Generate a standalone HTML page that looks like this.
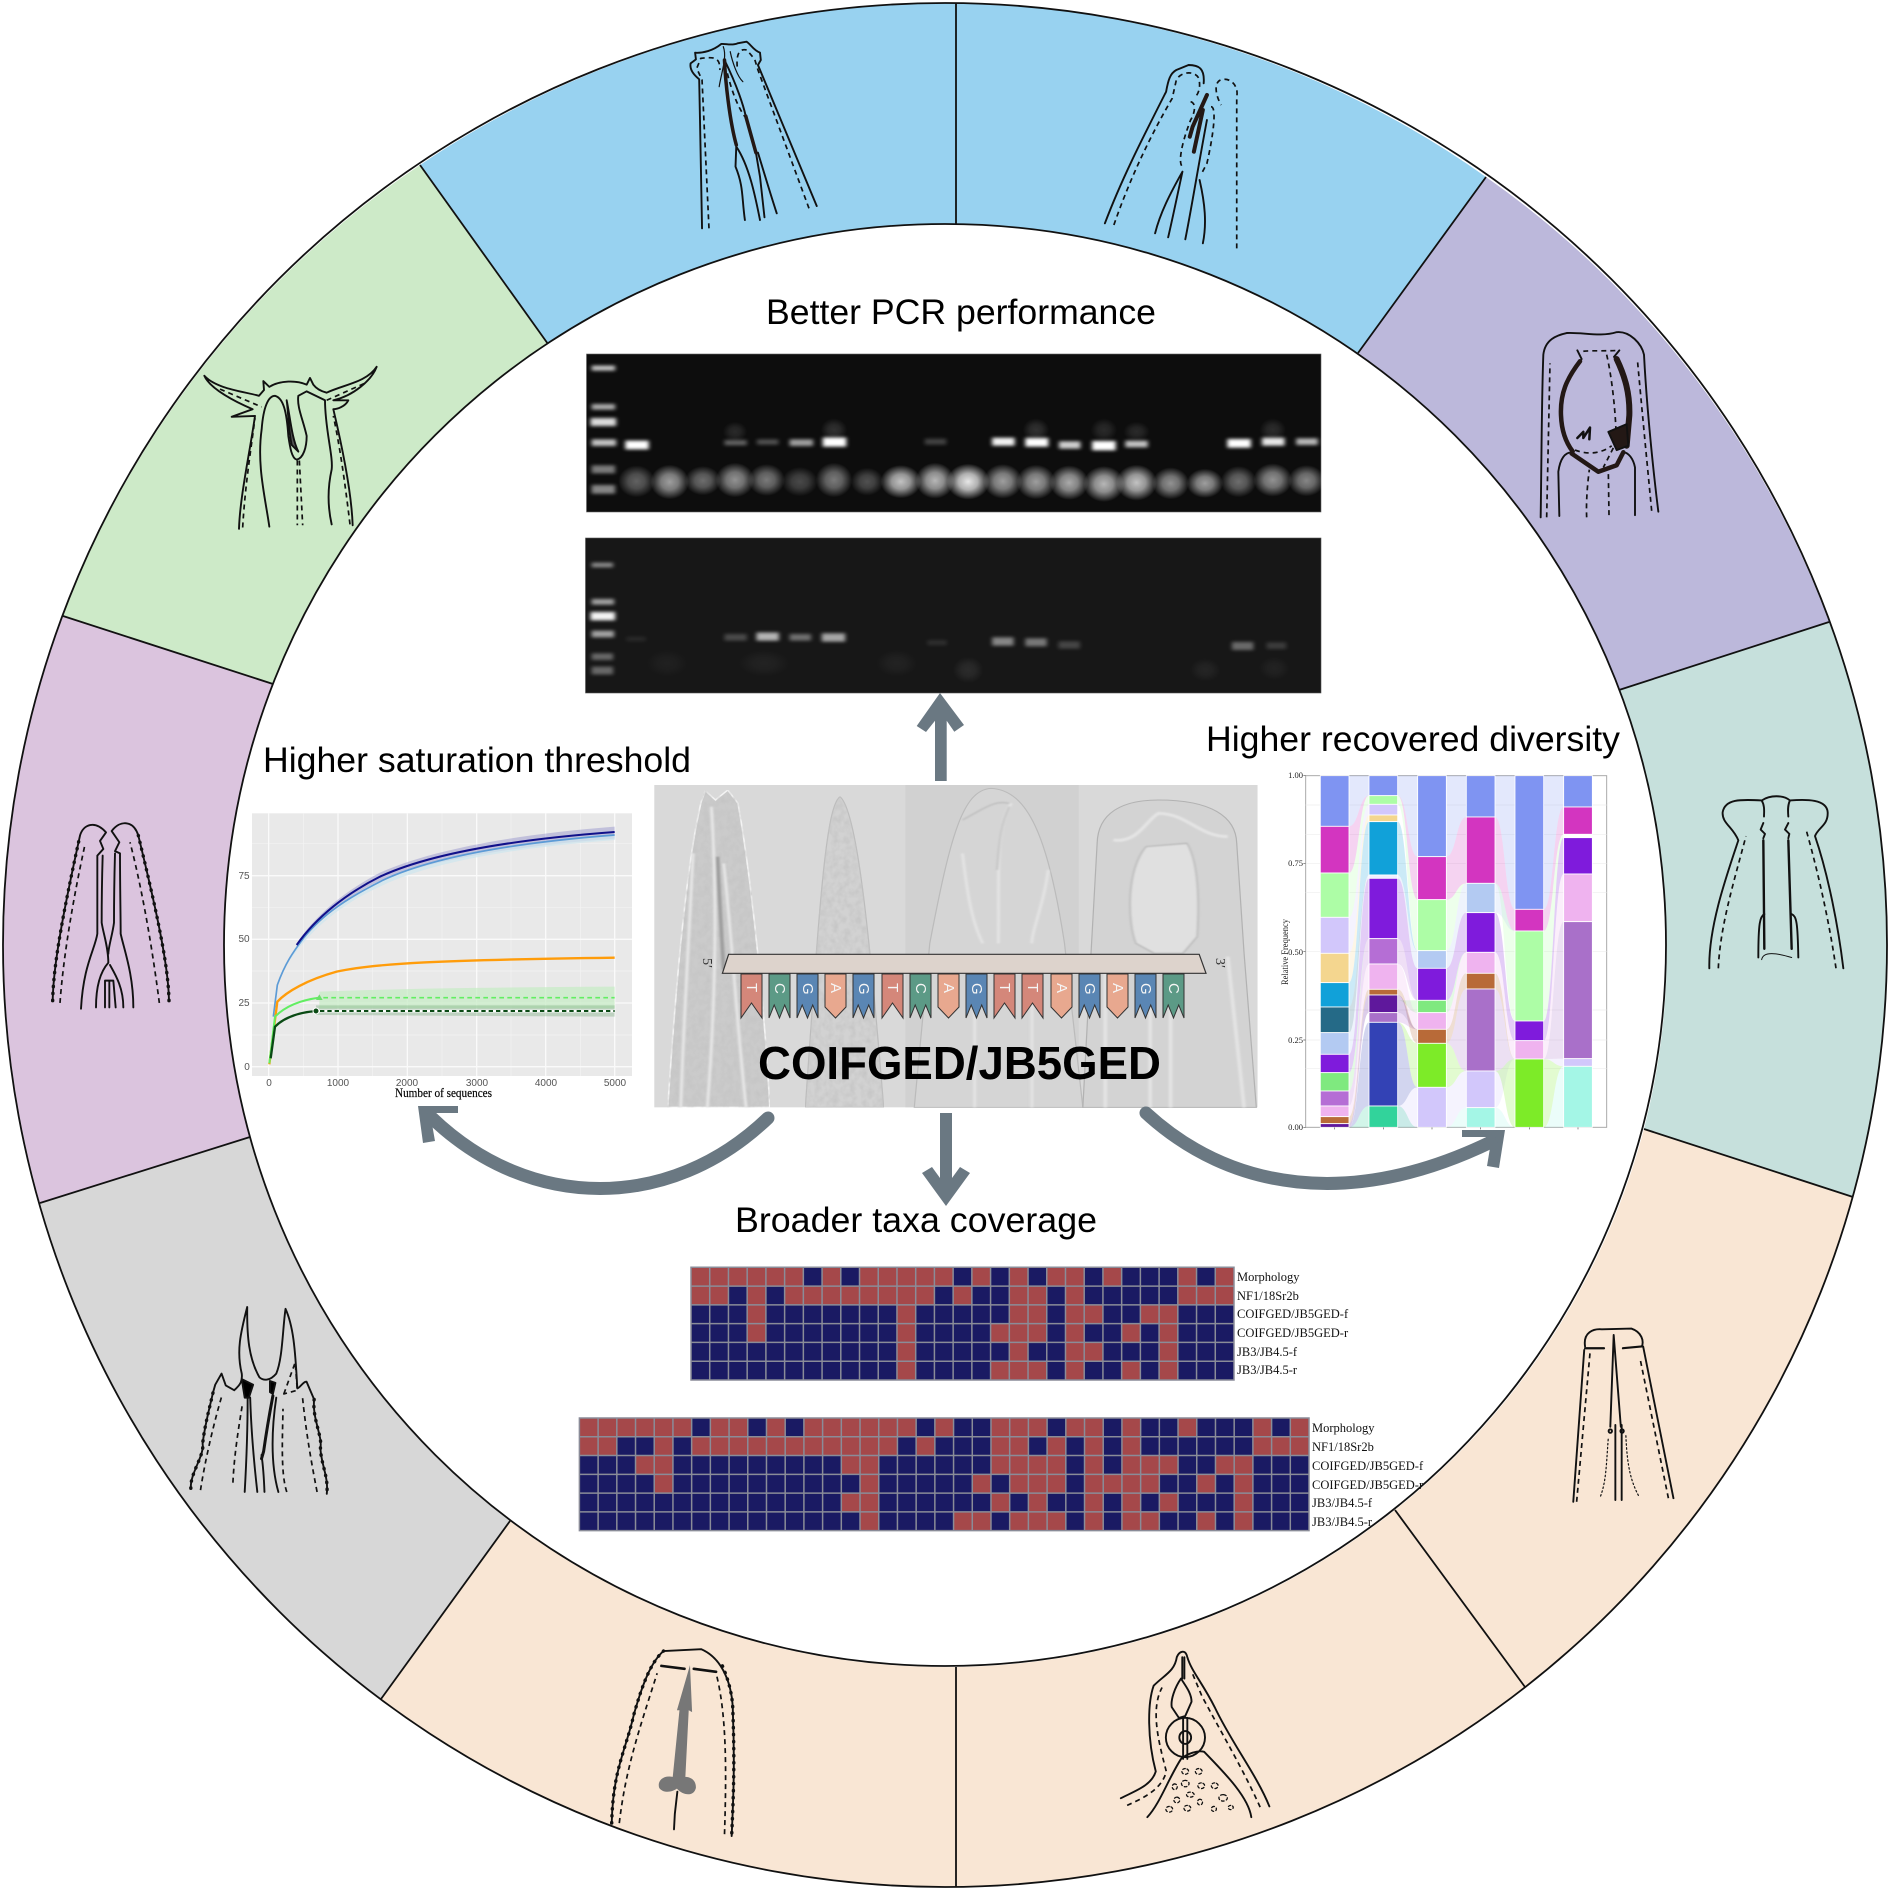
<!DOCTYPE html>
<html><head><meta charset="utf-8"><title>COIFGED/JB5GED</title>
<style>html,body{margin:0;padding:0;background:#fff}svg{display:block}
text{font-family:"Liberation Sans",sans-serif}
.s{font-family:"Liberation Serif",serif}
.n path{fill:none;stroke:#111;stroke-width:1.9;stroke-linecap:round;stroke-linejoin:round;vector-effect:non-scaling-stroke}
.n .d{stroke-dasharray:5 4;stroke-linecap:butt;stroke-width:1.7}
.n .w{stroke-dasharray:.5 6.5;stroke-width:3.4}
</style></head><body>
<svg xmlns="http://www.w3.org/2000/svg" width="1890" height="1890" viewBox="0 0 1890 1890">
<defs>
<radialGradient id="g"><stop offset="0" stop-color="#fff"/><stop offset=".45" stop-color="#fff" stop-opacity=".75"/><stop offset="1" stop-color="#fff" stop-opacity="0"/></radialGradient>
<filter id="b" x="-30%" y="-60%" width="160%" height="220%"><feGaussianBlur stdDeviation="4 5"/></filter>
<filter id="tx" x="0" y="0" width="100%" height="100%"><feTurbulence type="fractalNoise" baseFrequency=".07 .05" numOctaves="2" seed="4"/><feColorMatrix values="0 0 0 0 .55 0 0 0 0 .55 0 0 0 0 .55 1.6 0 0 0 -.55"/><feComposite in2="SourceGraphic" operator="in" result="n"/><feMerge><feMergeNode in="SourceGraphic"/><feMergeNode in="n"/></feMerge></filter>
<filter id="sf" x="-10%" y="-10%" width="120%" height="120%"><feGaussianBlur stdDeviation="2.5"/></filter>
<path id="ft" d="M0 0h21v44l-10.5-15-10.5 15z" stroke="#333" stroke-width="1"/>
<path id="fa" d="M0 0h21v33l-10.5 11-10.5-11z" stroke="#333" stroke-width="1"/>
<path id="fc" d="M0 0h21v44l-5.3-13-5.2 13-5.3-13-5.2 13z" stroke="#333" stroke-width="1"/>
</defs>
<rect width="1890" height="1890" fill="#fff"/>

<!-- titles -->
<text x="766" y="324" font-size="35.5" textLength="390" lengthAdjust="spacingAndGlyphs">Better PCR performance</text>
<text x="263" y="772" font-size="35.5" textLength="428" lengthAdjust="spacingAndGlyphs">Higher saturation threshold</text>
<text x="1206" y="751" font-size="35.5" textLength="414" lengthAdjust="spacingAndGlyphs">Higher recovered diversity</text>
<text x="735" y="1232" font-size="35.5" textLength="362" lengthAdjust="spacingAndGlyphs">Broader taxa coverage</text>

<!-- gels -->
<rect x="586.5" y="354" width="734.5" height="158" fill="#0d0d0d" stroke="#666" stroke-width=".6"/>
<rect x="585.5" y="538" width="735.5" height="155" fill="#171717" stroke="#555" stroke-width=".6"/>
<g transform="translate(560,280) scale(.5102,.3333)" fill="url(#g)">
<ellipse cx="150" cy="604" rx="36" ry="48" opacity=".35"/><ellipse cx="215" cy="606" rx="38" ry="52" opacity=".6"/><ellipse cx="280" cy="602" rx="35" ry="44" opacity=".4"/><ellipse cx="343" cy="600" rx="38" ry="52" opacity=".55"/><ellipse cx="405" cy="600" rx="36" ry="48" opacity=".45"/><ellipse cx="470" cy="605" rx="35" ry="44" opacity=".25"/><ellipse cx="537" cy="600" rx="36" ry="52" opacity=".45"/><ellipse cx="602" cy="605" rx="32" ry="42" opacity=".28"/><ellipse cx="668" cy="605" rx="40" ry="50" opacity=".75"/><ellipse cx="735" cy="602" rx="38" ry="54" opacity=".7"/><ellipse cx="800" cy="605" rx="42" ry="54" opacity=".9"/><ellipse cx="868" cy="604" rx="38" ry="52" opacity=".6"/><ellipse cx="933" cy="606" rx="38" ry="52" opacity=".6"/><ellipse cx="998" cy="608" rx="38" ry="52" opacity=".65"/><ellipse cx="1066" cy="612" rx="40" ry="54" opacity=".7"/><ellipse cx="1130" cy="608" rx="40" ry="54" opacity=".75"/><ellipse cx="1197" cy="610" rx="36" ry="48" opacity=".55"/><ellipse cx="1264" cy="610" rx="36" ry="44" opacity=".6"/><ellipse cx="1330" cy="605" rx="35" ry="47" opacity=".4"/><ellipse cx="1397" cy="600" rx="38" ry="50" opacity=".55"/><ellipse cx="1463" cy="602" rx="36" ry="47" opacity=".5"/>
<ellipse cx="343" cy="455" rx="24" ry="30" opacity=".12"/><ellipse cx="537" cy="450" rx="26" ry="35" opacity=".15"/><ellipse cx="933" cy="450" rx="26" ry="35" opacity=".15"/><ellipse cx="1066" cy="450" rx="26" ry="35" opacity=".12"/><ellipse cx="1130" cy="455" rx="26" ry="30" opacity=".12"/><ellipse cx="1397" cy="450" rx="26" ry="35" opacity=".13"/>
<ellipse cx="210" cy="1150" rx="40" ry="40" opacity=".04"/><ellipse cx="400" cy="1150" rx="50" ry="40" opacity=".05"/><ellipse cx="660" cy="1150" rx="40" ry="40" opacity=".05"/><ellipse cx="800" cy="1170" rx="30" ry="40" opacity=".09"/><ellipse cx="1265" cy="1170" rx="30" ry="35" opacity=".06"/><ellipse cx="1400" cy="1165" rx="30" ry="35" opacity=".05"/>
</g>
<g transform="translate(560,280) scale(.5102,.3333)" fill="#fff" filter="url(#b)">
<rect x="62" y="256" width="46" height="16" opacity=".75"/><rect x="62" y="372" width="46" height="17" opacity=".65"/><rect x="60" y="414" width="50" height="24" opacity=".85"/><rect x="62" y="478" width="48" height="20" opacity=".75"/><rect x="62" y="556" width="46" height="24" opacity=".45"/><rect x="62" y="615" width="46" height="26" opacity=".5"/>
<rect x="128" y="482" width="46" height="26"/><rect x="322" y="480" width="44" height="16" opacity=".35"/><rect x="386" y="478" width="42" height="16" opacity=".28"/><rect x="450" y="478" width="46" height="20" opacity=".6"/><rect x="515" y="472" width="46" height="28"/><rect x="715" y="476" width="42" height="18" opacity=".22"/><rect x="847" y="473" width="44" height="24" opacity=".95"/><rect x="912" y="474" width="45" height="26"/><rect x="978" y="484" width="42" height="22" opacity=".8"/><rect x="1043" y="483" width="46" height="28"/><rect x="1108" y="482" width="44" height="20" opacity=".75"/><rect x="1308" y="477" width="46" height="26"/><rect x="1376" y="473" width="44" height="24" opacity=".9"/><rect x="1443" y="475" width="42" height="20" opacity=".7"/>
<rect x="62" y="848" width="42" height="14" opacity=".5"/><rect x="62" y="957" width="44" height="17" opacity=".6"/><rect x="60" y="996" width="48" height="25" opacity=".95"/><rect x="62" y="1052" width="44" height="20" opacity=".6"/><rect x="62" y="1120" width="42" height="20" opacity=".35"/><rect x="62" y="1160" width="42" height="24" opacity=".35"/>
<rect x="130" y="1070" width="38" height="14" opacity=".08"/><rect x="322" y="1062" width="44" height="20" opacity=".22"/><rect x="385" y="1058" width="44" height="24" opacity=".68"/><rect x="450" y="1062" width="42" height="20" opacity=".38"/><rect x="513" y="1060" width="46" height="25" opacity=".62"/><rect x="720" y="1080" width="38" height="16" opacity=".1"/><rect x="847" y="1072" width="42" height="25" opacity=".48"/><rect x="912" y="1075" width="42" height="24" opacity=".42"/><rect x="977" y="1084" width="42" height="22" opacity=".2"/><rect x="1317" y="1086" width="42" height="24" opacity=".36"/><rect x="1385" y="1087" width="38" height="20" opacity=".16"/>
</g>

<!-- rarefaction chart -->
<g transform="translate(240,730) scale(.33333)">
<rect x="36" y="250" width="1140" height="788" fill="#e9e9e9"/>
<path d="M190 250V1038M398 250V1038M606 250V1038M813 250V1038M1021 250V1038M36 915H1176M36 723H1176M36 532H1176M36 340H1176" stroke="#f3f3f3" stroke-width="2"/>
<path d="M86 250V1038M294 250V1038M502 250V1038M710 250V1038M917 250V1038M1124 250V1038M36 1010H1176M36 819H1176M36 628H1176M36 437H1176" stroke="#fafafa" stroke-width="4"/>
<path d="M170 640C230 550 320 480 420 428C560 365 800 315 1124 290V326C800 350 560 395 420 452C320 500 230 570 170 650Z" fill="#8a88c8" opacity=".42"/>
<path d="M150 690C230 575 330 510 430 465C570 400 800 355 1124 330V315C800 340 570 385 430 450C330 500 230 570 150 680Z" fill="#cfe5ee" opacity=".75"/>
<path d="M238 785C500 775 800 772 1124 770V835H238Z" fill="#c5ebc3" opacity=".7"/>
<path d="M228 826H1124V860L228 855Z" fill="#5e9a62" opacity=".3"/>
<path d="M100 860L112 765C135 700 160 665 190 625C250 550 330 500 430 450C570 385 800 340 1124 315" fill="none" stroke="#5c9bd6" stroke-width="5"/>
<path d="M170 645C230 560 320 490 420 440C560 375 800 330 1124 306" fill="none" stroke="#10108a" stroke-width="6"/>
<path d="M88 1003L112 815C140 785 200 750 290 725C400 700 600 690 1124 683" fill="none" stroke="#ff9c0a" stroke-width="7"/>
<path d="M88 1000L105 860C130 835 170 812 238 803" fill="none" stroke="#62ee62" stroke-width="6"/>
<path d="M250 803H1124" fill="none" stroke="#62ee62" stroke-width="5" stroke-dasharray="14 10"/>
<path d="M228 843H1124" stroke="#fff" stroke-width="8"/>
<path d="M240 843H1124" stroke="#0a4a14" stroke-width="6" stroke-dasharray="13 9"/>
<path d="M92 985L105 890C130 865 170 848 228 843" fill="none" stroke="#0a4a14" stroke-width="7"/>
<path d="M238 793l10 17h-20z" fill="#6cdf6c"/><circle cx="228" cy="843" r="9" fill="#0a4a14" stroke="#fff" stroke-width="3"/>
</g>
<g font-size="10" fill="#555" text-anchor="middle">
<text x="269" y="1086">0</text><text x="338" y="1086">1000</text><text x="407" y="1086">2000</text><text x="477" y="1086">3000</text><text x="546" y="1086">4000</text><text x="615" y="1086">5000</text>
<text x="244" y="879">75</text><text x="244" y="942">50</text><text x="244" y="1006">25</text><text x="247" y="1070">0</text></g>
<text class="s" x="395" y="1097" font-size="13" stroke="#111" stroke-width=".2" textLength="97" lengthAdjust="spacingAndGlyphs">Number of sequences</text>

<!-- alluvial chart -->
<g transform="translate(1190,710) scale(.33333)">
<rect x="347" y="197" width="903" height="1055" fill="#fff" stroke="#aaa" stroke-width="3"/>
<path d="M347 285H1250M347 373H1250M347 548H1250M347 900H1250M347 1076H1250M347 460H1250M347 725H1250M347 990H1250" stroke="#eee" stroke-width="2"/>
<g fill-opacity=".22">
<path fill="#7f94f2" d="M477 197H537V257C507 257 507 349 477 349ZM623 197H683V440C653 440 653 257 623 257ZM769 197H829V321C799 321 799 440 769 440ZM915 197H975V598C945 598 945 321 915 321ZM1061 197H1121V291C1091 291 1091 598 1061 598Z"/>
<path fill="#d335c0" d="M477 349C507 349 507 257 537 257C507 257 507 489 477 489ZM623 257C653 257 653 440 683 440V569C653 569 653 257 623 257ZM769 440C799 440 799 321 829 321V520C799 520 799 569 769 569ZM915 321C945 321 945 598 975 598V663C945 663 945 520 915 520ZM1061 598C1091 598 1091 291 1121 291V373C1091 373 1091 663 1061 663Z"/>
<path fill="#adfda6" d="M477 489C507 489 507 257 537 257V283C507 283 507 622 477 622ZM623 257C653 257 653 569 683 569V722C653 722 653 283 623 283ZM769 569C799 569 799 520 829 520C799 520 799 722 769 722ZM915 520C945 520 945 663 975 663V933C945 933 945 520 915 520ZM1061 663C1091 663 1091 373 1121 373V383C1091 383 1091 933 1061 933Z"/>
<path fill="#d2c7fb" d="M477 622C507 622 507 283 537 283V315C507 315 507 730 477 730ZM623 1188C653 1188 653 1132 683 1132V1252H623ZM769 1132C799 1132 799 1083 829 1083V1193C799 1193 799 1252 769 1252ZM915 1083C945 1083 945 1047 975 1047C945 1047 945 1193 915 1193ZM1061 1047C1091 1047 1091 1046 1121 1046V1069C1091 1069 1091 1047 1061 1047Z"/>
<path fill="#f4d68f" d="M477 730C507 730 507 315 537 315V335C507 335 507 818 477 818Z"/>
<path fill="#11a1d9" d="M477 818C507 818 507 335 537 335V495C507 495 507 891 477 891ZM623 335C653 335 653 722 683 722C653 722 653 495 623 495Z"/>
<path fill="#256a87" d="M477 891C507 891 507 495 537 495C507 495 507 968 477 968Z"/>
<path fill="#b3caf2" d="M477 968C507 968 507 495 537 495V505C507 505 507 1033 477 1033ZM623 495C653 495 653 722 683 722V775C653 775 653 505 623 505ZM769 722C799 722 799 520 829 520V608C799 608 799 775 769 775ZM915 520C945 520 945 663 975 663C945 663 945 608 915 608Z"/>
<path fill="#7f1bdc" d="M477 1033C507 1033 507 505 537 505V686C507 686 507 1088 477 1088ZM623 505C653 505 653 775 683 775V871C653 871 653 686 623 686ZM769 775C799 775 799 608 829 608V727C799 727 799 871 769 871ZM915 608C945 608 945 933 975 933V992C945 992 945 727 915 727ZM1061 933C1091 933 1091 383 1121 383V492C1091 492 1091 992 1061 992Z"/>
<path fill="#7fe97f" d="M477 1088C507 1088 507 686 537 686C507 686 507 1143 477 1143ZM623 871C653 871 653 871 683 871V908C653 908 653 871 623 871ZM769 871C799 871 799 727 829 727C799 727 799 908 769 908Z"/>
<path fill="#b56ed5" d="M477 1143C507 1143 507 686 537 686V762C507 762 507 1188 477 1188ZM623 686C653 686 653 871 683 871C653 871 653 762 623 762ZM623 908C653 908 653 958 683 958C653 958 653 937 623 937Z"/>
<path fill="#efb3ef" d="M477 1188C507 1188 507 762 537 762V838C507 838 507 1220 477 1220ZM623 762C653 762 653 908 683 908V958C653 958 653 838 623 838ZM769 908C799 908 799 727 829 727V790C799 790 799 958 769 958ZM915 727C945 727 945 992 975 992V1047C945 1047 945 790 915 790ZM1061 992C1091 992 1091 492 1121 492V635C1091 635 1091 1047 1061 1047Z"/>
<path fill="#b86a38" d="M477 1220C507 1220 507 838 537 838V855C507 855 507 1241 477 1241ZM623 838C653 838 653 958 683 958V1000C653 1000 653 855 623 855ZM769 958C799 958 799 790 829 790V837C799 837 799 1000 769 1000ZM915 790C945 790 945 1047 975 1047C945 1047 945 837 915 837Z"/>
<path fill="#5f189c" d="M477 1241C507 1241 507 855 537 855V908C507 908 507 1252 477 1252ZM623 855C653 855 653 958 683 958C653 958 653 908 623 908Z"/>
<path fill="#3342b5" d="M477 1252C507 1252 507 937 537 937V1188C507 1188 507 1252 477 1252ZM623 937C653 937 653 1132 683 1132C653 1132 653 1188 623 1188Z"/>
<path fill="#7deb28" d="M623 937C653 937 653 1000 683 1000V1132C653 1132 653 937 623 937ZM769 1000C799 1000 799 1083 829 1083C799 1083 799 1132 769 1132ZM915 1083C945 1083 945 1047 975 1047V1252C945 1252 945 1083 915 1083ZM1061 1047C1091 1047 1091 1069 1121 1069C1091 1069 1091 1252 1061 1252Z"/>
<path fill="#a970c9" d="M769 1000C799 1000 799 837 829 837V1083C799 1083 799 1000 769 1000ZM915 837C945 837 945 1047 975 1047C945 1047 945 1083 915 1083ZM1061 1047C1091 1047 1091 635 1121 635V1046C1091 1046 1091 1047 1061 1047Z"/>
<path fill="#32d39b" d="M477 1252C507 1252 507 1188 537 1188V1252ZM623 1188C653 1188 653 1252 683 1252H623Z"/>
<path fill="#a4f6e6" d="M769 1252C799 1252 799 1193 829 1193V1252ZM915 1193C945 1193 945 1252 975 1252H915ZM1061 1252C1091 1252 1091 1069 1121 1069V1252Z"/>
</g>
<g stroke="#fff" stroke-width="2.5">
<rect x="391" y="197" width="86" height="152" fill="#7f94f2"/><rect x="391" y="349" width="86" height="140" fill="#d335c0"/><rect x="391" y="489" width="86" height="133" fill="#adfda6"/><rect x="391" y="622" width="86" height="108" fill="#d2c7fb"/><rect x="391" y="730" width="86" height="88" fill="#f4d68f"/><rect x="391" y="818" width="86" height="73" fill="#11a1d9"/><rect x="391" y="891" width="86" height="77" fill="#256a87"/><rect x="391" y="968" width="86" height="65" fill="#b3caf2"/><rect x="391" y="1033" width="86" height="55" fill="#7f1bdc"/><rect x="391" y="1088" width="86" height="55" fill="#7fe97f"/><rect x="391" y="1143" width="86" height="45" fill="#b56ed5"/><rect x="391" y="1188" width="86" height="32" fill="#efb3ef"/><rect x="391" y="1220" width="86" height="21" fill="#b86a38"/><rect x="391" y="1241" width="86" height="11" fill="#5f189c"/>
<rect x="537" y="197" width="86" height="60" fill="#7f94f2"/><rect x="537" y="257" width="86" height="26" fill="#adfda6"/><rect x="537" y="283" width="86" height="32" fill="#d2c7fb"/><rect x="537" y="315" width="86" height="20" fill="#f4d68f"/><rect x="537" y="335" width="86" height="160" fill="#11a1d9"/><rect x="537" y="495" width="86" height="10" fill="#eef"/><rect x="537" y="505" width="86" height="181" fill="#7f1bdc"/><rect x="537" y="686" width="86" height="76" fill="#b56ed5"/><rect x="537" y="762" width="86" height="76" fill="#efb3ef"/><rect x="537" y="838" width="86" height="17" fill="#b86a38"/><rect x="537" y="855" width="86" height="53" fill="#5f189c"/><rect x="537" y="908" width="86" height="29" fill="#a970c9"/><rect x="537" y="937" width="86" height="251" fill="#3342b5"/><rect x="537" y="1188" width="86" height="64" fill="#32d39b"/>
<rect x="683" y="197" width="86" height="243" fill="#7f94f2"/><rect x="683" y="440" width="86" height="129" fill="#d335c0"/><rect x="683" y="569" width="86" height="153" fill="#adfda6"/><rect x="683" y="722" width="86" height="53" fill="#b3caf2"/><rect x="683" y="775" width="86" height="96" fill="#7f1bdc"/><rect x="683" y="871" width="86" height="37" fill="#7fe97f"/><rect x="683" y="908" width="86" height="50" fill="#efb3ef"/><rect x="683" y="958" width="86" height="42" fill="#b86a38"/><rect x="683" y="1000" width="86" height="132" fill="#7deb28"/><rect x="683" y="1132" width="86" height="120" fill="#d2c7fb"/>
<rect x="829" y="197" width="86" height="124" fill="#7f94f2"/><rect x="829" y="321" width="86" height="199" fill="#d335c0"/><rect x="829" y="520" width="86" height="88" fill="#b3caf2"/><rect x="829" y="608" width="86" height="119" fill="#7f1bdc"/><rect x="829" y="727" width="86" height="63" fill="#efb3ef"/><rect x="829" y="790" width="86" height="47" fill="#b86a38"/><rect x="829" y="837" width="86" height="246" fill="#a970c9"/><rect x="829" y="1083" width="86" height="110" fill="#d2c7fb"/><rect x="829" y="1193" width="86" height="59" fill="#a4f6e6"/>
<rect x="975" y="197" width="86" height="401" fill="#7f94f2"/><rect x="975" y="598" width="86" height="65" fill="#d335c0"/><rect x="975" y="663" width="86" height="270" fill="#adfda6"/><rect x="975" y="933" width="86" height="59" fill="#7f1bdc"/><rect x="975" y="992" width="86" height="55" fill="#efb3ef"/><rect x="975" y="1047" width="86" height="205" fill="#7deb28"/>
<rect x="1121" y="197" width="86" height="94" fill="#7f94f2"/><rect x="1121" y="291" width="86" height="82" fill="#d335c0"/><rect x="1121" y="373" width="86" height="10" fill="#fff"/><rect x="1121" y="383" width="86" height="109" fill="#7f1bdc"/><rect x="1121" y="492" width="86" height="143" fill="#efb3ef"/><rect x="1121" y="635" width="86" height="411" fill="#a970c9"/><rect x="1121" y="1046" width="86" height="23" fill="#d2c7fb"/><rect x="1121" y="1069" width="86" height="183" fill="#a4f6e6"/>
</g>
<path d="M340 197H347M340 460H347M340 725H347M340 990H347M340 1252H347M434 1252v6M580 1252v6M726 1252v6M872 1252v6M1018 1252v6M1164 1252v6" stroke="#555" stroke-width="2"/>
</g>
<g class="s" font-size="8.5" text-anchor="end" fill="#222"><text class="s" x="1303" y="778">1.00</text><text class="s" x="1303" y="866">0.75</text><text class="s" x="1303" y="955">0.50</text><text class="s" x="1303" y="1043">0.25</text><text class="s" x="1303" y="1130">0.00</text></g>
<text class="s" transform="translate(1288,985) rotate(-90)" font-size="9.5" fill="#222" textLength="66" lengthAdjust="spacingAndGlyphs">Relative Frequency</text>

<!-- micrographs -->
<g transform="translate(640,770) scale(.40816,.33333)">
<rect x="35" y="45" width="1478" height="967" fill="#d9d9d9"/>
<rect x="650" y="45" width="425" height="967" fill="#d1d1d1"/>
<path d="M150 95L160 62 185 90 215 60 240 100C270 300 305 700 318 1012H68C85 700 110 300 150 95Z" fill="#cbcbcb" stroke="#f4f4f4" stroke-width="4" filter="url(#tx)"/>
<g fill="none" filter="url(#sf)">
<path d="M130 250C120 500 105 800 100 1012M175 110C190 400 185 700 165 1012M205 280C225 500 240 800 260 1012" stroke="#e8e8e8" stroke-width="7"/>
<path d="M190 260C195 400 200 500 205 600" stroke="#9c9c9c" stroke-width="9"/>
</g>
<path d="M490 80C455 110 440 400 405 1012H597C560 450 530 120 490 80Z" fill="#d2d2d2" stroke="#bcbcbc" stroke-width="3" filter="url(#tx)"/>
<path d="M860 55C790 60 760 200 710 520L672 1012H1085L1040 520C1000 200 950 60 860 55Z" fill="#d5d5d5" stroke="#bbb" stroke-width="3"/>
<g fill="none" filter="url(#sf)">
<path d="M910 100C870 170 880 300 878 520M790 250C800 350 810 450 840 520M1000 300C990 400 960 480 960 520M820 560V1012M960 560V1012" stroke="#e4e4e4" stroke-width="7"/>
<path d="M905 110C880 170 880 230 875 300M790 150C850 110 870 90 905 100" stroke="#bdbdbd" stroke-width="4"/>
</g>
<path d="M1270 90C1180 90 1122 130 1120 220L1105 550 1085 1012H1510L1480 550 1462 220C1460 140 1400 90 1270 90Z" fill="#d3d3d3" stroke="#b2b2b2" stroke-width="3"/>
<path d="M1240 230C1190 300 1195 460 1215 520L1260 550H1330L1365 500C1370 400 1370 280 1340 220Z" fill="#e0e0e0" stroke="#aeaeae" stroke-width="3" filter="url(#sf)"/>
<g fill="none" filter="url(#sf)"><path d="M1160 210C1220 220 1240 150 1270 130 1340 130 1370 200 1440 200M1140 560V1012M1250 560V1012M1300 560V1012M1440 560 1480 1012" stroke="#e4e4e4" stroke-width="9"/></g>
</g>
<polygon points="728.6,954.3 1199.2,954.3 1206,973.3 722.4,973.3" fill="#ddd3cc" stroke="#333" stroke-width="1.2"/>
<g fill="#333"><text class="s" transform="translate(703,958) rotate(90)" font-size="14">5′</text><text class="s" transform="translate(1216,958) rotate(90)" font-size="14">3′</text></g>
<g>
<use href="#ft" x="741" y="974" fill="#d4877a"/><use href="#fc" x="769" y="974" fill="#5c9a86"/><use href="#fc" x="797" y="974" fill="#5a86b4"/><use href="#fa" x="825" y="974" fill="#e8a88f"/><use href="#fc" x="853" y="974" fill="#5a86b4"/><use href="#ft" x="882" y="974" fill="#d4877a"/><use href="#fc" x="910" y="974" fill="#5c9a86"/><use href="#fa" x="938" y="974" fill="#e8a88f"/><use href="#fc" x="966" y="974" fill="#5a86b4"/><use href="#ft" x="994" y="974" fill="#d4877a"/><use href="#ft" x="1022" y="974" fill="#d4877a"/><use href="#fa" x="1051" y="974" fill="#e8a88f"/><use href="#fc" x="1079" y="974" fill="#5a86b4"/><use href="#fa" x="1107" y="974" fill="#e8a88f"/><use href="#fc" x="1135" y="974" fill="#5a86b4"/><use href="#fc" x="1163" y="974" fill="#5c9a86"/>
</g>
<g font-size="15" fill="#f5f5f5">
<text transform="translate(747,983) rotate(90)">T</text><text transform="translate(775,983) rotate(90)">C</text><text transform="translate(803,983) rotate(90)">G</text><text transform="translate(831,983) rotate(90)">A</text><text transform="translate(859,983) rotate(90)">G</text><text transform="translate(888,983) rotate(90)">T</text><text transform="translate(916,983) rotate(90)">C</text><text transform="translate(944,983) rotate(90)">A</text><text transform="translate(972,983) rotate(90)">G</text><text transform="translate(1000,983) rotate(90)">T</text><text transform="translate(1028,983) rotate(90)">T</text><text transform="translate(1057,983) rotate(90)">A</text><text transform="translate(1085,983) rotate(90)">G</text><text transform="translate(1113,983) rotate(90)">A</text><text transform="translate(1141,983) rotate(90)">G</text><text transform="translate(1169,983) rotate(90)">C</text>
</g>
<text x="758" y="1079" font-size="46" font-weight="bold" textLength="403" lengthAdjust="spacingAndGlyphs">COIFGED/JB5GED</text>

<!-- heatmap 1 -->
<g transform="translate(691,1267.3) scale(18.724,18.78)">
<rect width="29" height="6" fill="#1a1a63"/>
<path fill="#a5484a" d="M0 0h6v1h-6zM7 0h1v1h-1zM9 0h5v1h-5zM15 0h1v1h-1zM17 0h1v1h-1zM19 0h2v1h-2zM22 0h1v1h-1zM26 0h1v1h-1zM28 0h1v1h-1z
M0 1h2v1h-2zM3 1h1v1h-1zM5 1h8v1h-8zM14 1h1v1h-1zM17 1h2v1h-2zM20 1h1v1h-1zM26 1h3v1h-3z
M3 2h1v1h-1zM11 2h1v1h-1zM17 2h2v1h-2zM20 2h2v1h-2zM24 2h2v1h-2z
M3 3h1v1h-1zM11 3h1v1h-1zM16 3h3v1h-3zM20 3h1v1h-1zM23 3h1v1h-1zM25 3h1v1h-1z
M11 4h1v1h-1zM17 4h1v1h-1zM20 4h2v1h-2zM25 4h1v1h-1z
M11 5h1v1h-1zM16 5h3v1h-3zM20 5h1v1h-1zM23 5h1v1h-1zM25 5h1v1h-1z"/>
<path fill="none" stroke="#8a8c98" stroke-width="1.5" vector-effect="non-scaling-stroke" d="M0 0H29V6H0ZM1 0V6M2 0V6M3 0V6M4 0V6M5 0V6M6 0V6M7 0V6M8 0V6M9 0V6M10 0V6M11 0V6M12 0V6M13 0V6M14 0V6M15 0V6M16 0V6M17 0V6M18 0V6M19 0V6M20 0V6M21 0V6M22 0V6M23 0V6M24 0V6M25 0V6M26 0V6M27 0V6M28 0V6M0 1H29M0 2H29M0 3H29M0 4H29M0 5H29"/>
</g>
<!-- heatmap 2 -->
<g transform="translate(579.4,1418) scale(18.708,18.78)">
<rect width="39" height="6" fill="#1a1a63"/>
<path fill="#a5484a" d="M0 0h6v1h-6zM7 0h2v1h-2zM10 0h1v1h-1zM12 0h6v1h-6zM19 0h1v1h-1zM22 0h3v1h-3zM26 0h2v1h-2zM29 0h1v1h-1zM32 0h1v1h-1zM36 0h1v1h-1zM38 0h1v1h-1z
M0 1h2v1h-2zM4 1h1v1h-1zM6 1h11v1h-11zM18 1h1v1h-1zM22 1h2v1h-2zM25 1h1v1h-1zM27 1h1v1h-1zM29 1h1v1h-1zM36 1h3v1h-3z
M3 2h2v1h-2zM14 2h2v1h-2zM22 2h4v1h-4zM27 2h1v1h-1zM29 2h3v1h-3zM34 2h2v1h-2z
M4 3h1v1h-1zM15 3h1v1h-1zM21 3h1v1h-1zM23 3h3v1h-3zM27 3h4v1h-4zM33 3h1v1h-1zM35 3h1v1h-1z
M14 4h2v1h-2zM22 4h1v1h-1zM24 4h1v1h-1zM27 4h1v1h-1zM29 4h1v1h-1zM31 4h1v1h-1zM35 4h1v1h-1z
M15 5h1v1h-1zM20 5h2v1h-2zM23 5h3v1h-3zM27 5h1v1h-1zM29 5h2v1h-2zM33 5h1v1h-1zM35 5h1v1h-1z"/>
<path fill="none" stroke="#8a8c98" stroke-width="1.5" vector-effect="non-scaling-stroke" d="M0 0H39V6H0ZM1 0V6M2 0V6M3 0V6M4 0V6M5 0V6M6 0V6M7 0V6M8 0V6M9 0V6M10 0V6M11 0V6M12 0V6M13 0V6M14 0V6M15 0V6M16 0V6M17 0V6M18 0V6M19 0V6M20 0V6M21 0V6M22 0V6M23 0V6M24 0V6M25 0V6M26 0V6M27 0V6M28 0V6M29 0V6M30 0V6M31 0V6M32 0V6M33 0V6M34 0V6M35 0V6M36 0V6M37 0V6M38 0V6M0 1H39M0 2H39M0 3H39M0 4H39M0 5H39"/>
</g>
<g font-size="12.5" fill="#111">
<text class="s" x="1237" y="1281">Morphology</text><text class="s" x="1237" y="1300">NF1/18Sr2b</text><text class="s" x="1237" y="1318">COIFGED/JB5GED-f</text><text class="s" x="1237" y="1337">COIFGED/JB5GED-r</text><text class="s" x="1237" y="1356">JB3/JB4.5-f</text><text class="s" x="1237" y="1374">JB3/JB4.5-r</text>
<text class="s" x="1312" y="1432">Morphology</text><text class="s" x="1312" y="1451">NF1/18Sr2b</text><text class="s" x="1312" y="1470">COIFGED/JB5GED-f</text><text class="s" x="1312" y="1489">COIFGED/JB5GED-r</text><text class="s" x="1312" y="1507">JB3/JB4.5-f</text><text class="s" x="1312" y="1526">JB3/JB4.5-r</text>
</g>

<!-- arrows -->
<g fill="#6a7882">
<polygon points="940,693 964,725 954.3,731.7 946.7,720.7 946.7,781 935,781 935,720.7 926,732 916.7,726"/>
<polygon points="946,1206 922,1173 932,1167 940,1178 940,1113 952,1113 952,1178 960,1167 970,1173"/>
<polygon points="418,1106 458,1106 458,1113 436,1113 432,1124 435,1141 423,1143"/>
<polygon points="1505,1130 1462,1130 1462,1137 1486,1137 1490,1148 1487,1166 1499,1168"/>
</g>
<g fill="none" stroke="#6a7882" stroke-width="13" stroke-linecap="round">
<path d="M768 1118C670 1212 530 1212 432 1118"/>
<path d="M1146 1113C1230 1190 1350 1210 1491 1142"/>
</g>

<!-- ring -->
<g>
<path fill="#98d2f0" d="M420 165A942 942 0 0 1 956 3V224A721 721 0 0 0 548 344Z"/>
<path fill="#98d2f0" d="M956 3A942 942 0 0 1 1486 177L1358 353A721 721 0 0 0 956 224Z"/>
<path fill="#bcb8db" d="M1486 177A942 942 0 0 1 1829 622L1619 690A721 721 0 0 0 1358 353Z"/>
<path fill="#c6e0dc" d="M1829 622A942 942 0 0 1 1853 1197L1644 1129A721 721 0 0 0 1619 690Z"/>
<path fill="#f9e6d4" d="M1853 1197A942 942 0 0 1 1525 1687L1395 1510A721 721 0 0 0 1644 1129Z"/>
<path fill="#f9e6d4" d="M1525 1687A942 942 0 0 1 956 1887V1667A721 721 0 0 0 1395 1510Z"/>
<path fill="#f9e6d4" d="M956 1887A942 942 0 0 1 381 1699L510 1521A721 721 0 0 0 956 1667Z"/>
<path fill="#d7d7d7" d="M381 1699A942 942 0 0 1 40 1203L250 1137A721 721 0 0 0 510 1521Z"/>
<path fill="#dbc4de" d="M40 1203A942 942 0 0 1 63 616L273 684A721 721 0 0 0 250 1137Z"/>
<path fill="#cdeac8" d="M63 616A942 942 0 0 1 420 165L548 344A721 721 0 0 0 273 684Z"/>
<g fill="none" stroke="#111" stroke-width="1.8">
<circle cx="945" cy="945" r="942"/><circle cx="945" cy="945" r="721"/>
<path d="M956 3V224M1486 177L1358 353M1829 622L1619 690M1853 1197L1644 1129M1525 1687L1395 1510M956 1887V1667M381 1699L510 1521M40 1203L250 1137M63 616L273 684M420 165L548 344"/>
</g>
</g>

<!-- nematodes -->
<g class="n">
<g transform="translate(660,20) scale(.40816,.33333)">
<path d="M103 625L98 300 96 178C84 165 72 150 75 130L88 118 86 98C105 100 130 92 150 72C160 70 175 78 190 70L212 65C222 72 228 90 245 98L247 120 240 135 384 558"/>
<path class="d" d="M120 625L103 180 90 145 100 115C125 112 140 110 145 130L147 150M365 565L240 150 232 118 213 90C195 85 185 100 190 150M165 160C175 210 190 260 208 290"/>
<path style="stroke-width:1.2" d="M155 80C165 110 150 160 145 200M172 95C178 130 190 170 203 185"/>
<path d="M158 120C190 200 205 260 210 288M187 375L185 440C205 500 200 530 208 600M187 380C220 440 235 540 245 600M235 398L245 470 256 592M240 398C258 470 270 520 286 580"/>
<path d="M158 120C160 180 170 300 187 375M210 288L235 398" style="stroke-width:3.5;stroke:#231815"/>
<path d="M1090 610C1130 480 1180 360 1240 215C1245 180 1250 160 1265 150L1295 135C1320 135 1335 145 1332 190 1325 225 1310 245M1340 230C1345 190 1350 150 1380 148C1405 150 1425 190 1427 210L1420 240C1435 350 1440 500 1432 688"/>
<path class="d" d="M1112 615C1150 480 1200 350 1255 235L1265 180C1275 155 1310 150 1320 175C1325 200 1320 220 1312 230M1413 685V230C1418 200 1400 175 1380 178C1355 180 1360 225 1375 255M1300 245C1315 250 1310 280 1300 300 1275 380 1270 430 1280 440M1350 260C1365 260 1355 350 1340 430L1325 465"/>
<path d="M1340 225L1305 320 1298 350M1330 270L1308 395" style="stroke-width:4;stroke:#231815"/>
<path d="M1280 455C1250 520 1225 580 1213 640M1280 455C1265 540 1255 600 1245 652M1340 300C1320 430 1300 580 1287 658M1322 480C1335 550 1340 610 1330 670"/>
</g>
<g transform="translate(1500,320) scale(.33333,.43365)">
<path d="M122 455C125 300 125 180 130 80C135 45 170 35 200 30C250 28 300 40 350 28C390 25 425 55 432 80C440 200 460 350 475 442M232 70L245 90M358 70L342 85M178 452L175 350C180 320 195 305 215 305M405 450V340C400 320 385 305 370 305"/>
<path class="d" d="M140 455L150 100M455 440C440 320 425 200 412 90M250 72C280 70 320 72 358 70M320 80C335 130 345 200 348 255M225 300C260 310 300 310 335 290M340 295L310 340M260 455C258 420 262 380 268 345M327 450L325 350"/>
<path d="M240 95C200 135 180 170 183 220C185 260 200 285 218 303M215 308L295 350 350 335 370 305" style="stroke-width:4.5;stroke:#231815"/>
<path d="M350 90C375 130 390 170 388 220L380 290" style="stroke-width:6;stroke:#231815"/>
<path d="M325 258L380 240 385 290 350 300Z" style="fill:#231815"/>
<path d="M232 272L250 258 250 272 270 248 268 275" style="stroke-width:2.5"/>
</g>
<g transform="translate(1500,320) scale(.33333,.43365)">
<path d="M628 1495C625 1400 680 1280 715 1200C700 1170 665 1160 668 1135C675 1105 720 1105 785 1108C810 1095 850 1095 870 1108C920 1105 980 1105 983 1135C985 1165 955 1170 945 1190C985 1280 1015 1400 1030 1495M785 1108C795 1120 792 1135 792 1145M870 1108C862 1120 864 1135 865 1145M790 1160L782 1175 795 1185 790 1195M865 1160L855 1175 868 1185 865 1195M793 1370C780 1375 775 1390 775 1470M875 1370C890 1375 893 1390 895 1470"/>
<path style="stroke-width:1" d="M785 1475C790 1455 830 1460 875 1470"/>
<path d="M790 1200L793 1450M865 1200L875 1450" style="stroke-width:2.4"/>
<path class="d" d="M655 1495C660 1400 700 1300 738 1190M1008 1495C990 1400 960 1290 920 1180"/>
</g>
<g transform="translate(1080,1300) scale(.42088,.35714)">
<path d="M1200 130C1195 90 1220 80 1240 82L1310 80C1335 90 1340 115 1335 130M1172 565L1198 140M1410 555L1338 130M1268 98L1260 355M1268 98L1285 355M1272 350V560M1287 350V560"/>
<path d="M1200 135H1245M1290 135L1335 130" style="stroke-width:2.2"/>
<path class="d" d="M1180 565L1212 145M1398 555L1330 160"/>
<path d="M1255 390C1250 470 1250 510 1235 555M1297 380C1300 470 1310 510 1328 550" style="stroke-dasharray:1.5 2.5;stroke-width:1.2"/>
<path d="M1256 367a4 5 0 1 0 8 0a4 5 0 1 0-8 0M1284 367a4 5 0 1 0 8 0a4 5 0 1 0-8 0"/>
</g>
<g transform="translate(1080,1300) scale(.42088,.35714)">
<path d="M97 1395C130 1375 170 1360 180 1320C160 1230 160 1130 175 1080C200 1050 225 1040 230 1000C235 985 250 975 255 1000C265 1040 290 1070 320 1140C360 1240 420 1330 450 1418M160 1448C190 1410 210 1340 240 1285C255 1270 280 1260 295 1265C340 1320 400 1390 407 1448M240 1060C225 1085 215 1120 218 1140L235 1170 250 1165 265 1125C265 1100 250 1080 240 1060M204 1225C204 1195 225 1170 250 1170S297 1195 297 1225 275 1280 250 1280 204 1255 204 1225ZM236 1225a14 18 0 1 0 28 0a14 18 0 1 0-28 0M243 1000V1060M248 1000V1060M245 1170V1285M255 1170V1285"/>
<path class="d" d="M112 1415C150 1395 195 1370 205 1320C190 1250 165 1150 195 1085M428 1420C390 1320 340 1220 290 1110L265 1040"/>
<path style="stroke-dasharray:2.5 2.5;stroke-width:1.3" d="M250 1312a8 8 0 1 0 .1 0M282 1312a8 8 0 1 0 .1 0M250 1345a9 9 0 1 0 .1 0M288 1352a8 8 0 1 0 .1 0M320 1352a8 8 0 1 0 .1 0M225 1355a6 8 0 1 0 .1 0M262 1378a9 7 0 1 0 .1 0M230 1392a7 8 0 1 0 .1 0M340 1385a10 9 0 1 0 .1 0M285 1398a6 8 0 1 0 .1 0M212 1418a8 8 0 1 0 .1 0M255 1415a8 8 0 1 0 .1 0M318 1418a6 7 0 1 0 .1 0M358 1415a6 6 0 1 0 .1 0"/>
</g>
<g transform="translate(150,1270) scale(.42088,.36996)">
<path d="M1097 1495C1100 1350 1130 1300 1150 1200C1170 1120 1190 1060 1220 1030L1310 1025C1360 1050 1385 1120 1385 1200C1390 1350 1385 1450 1382 1530M1253 1410L1247 1470 1245 1512"/>
<path class="w" d="M1097 1495C1100 1350 1130 1300 1150 1200C1170 1120 1190 1060 1220 1030M1360 1070C1375 1110 1385 1150 1385 1200C1390 1350 1385 1450 1382 1530"/>
<path class="d" d="M1115 1495C1130 1350 1160 1250 1205 1090M1365 1525C1370 1350 1370 1200 1345 1090"/>
<path d="M1215 1070L1270 1078M1292 1078L1345 1086" style="stroke-width:2.6"/>
<path d="M1283 1068L1252 1190 1258 1190 1242 1370C1215 1365 1205 1385 1210 1400 1220 1415 1240 1412 1252 1402 1265 1420 1292 1425 1297 1400 1298 1380 1285 1370 1272 1370L1280 1190 1288 1195Z" style="fill:#777;stroke:none"/>
</g>
<g transform="translate(150,1270) scale(.42088,.36996)">
<path d="M97 590C95 550 130 500 125 470C130 420 140 380 150 330L155 310 170 280 180 312 200 325C215 310 220 300 218 280C205 220 215 170 231 100C230 180 235 240 260 290C270 300 285 300 300 280C315 240 315 160 322 105C340 150 345 210 350 320C355 320 365 300 372 302L390 350C385 400 410 450 405 480C405 520 425 560 420 605M225 600C230 500 232 400 232 345M255 600C245 500 240 420 238 345M272 600C270 540 265 500 265 500M305 600C285 520 290 420 300 345"/>
<path class="w" d="M97 590C95 550 130 500 125 470C130 420 140 380 150 330M390 350C385 400 410 450 405 480C405 520 425 560 420 605"/>
<path d="M218 295L245 310 235 345 225 345ZM285 300L298 305 292 335 285 330Z" style="fill:#000"/>
<path d="M292 340C282 400 275 450 270 490L265 510" style="stroke-width:3"/>
<path class="d" d="M120 595C130 520 150 420 172 335M197 575C200 500 210 430 220 360M325 600C310 550 315 450 316 375M397 600C380 500 370 430 362 340M318 335L345 250 350 325Z"/>
</g>
<g transform="translate(20,340) scale(.33333,.44643)">
<path d="M98 1480C100 1400 130 1280 180 1110C190 1085 225 1075 258 1103L240 1122 250 1140 232 1155C232 1230 232 1290 232 1330C225 1365 190 1400 183 1498M248 1155C245 1230 245 1290 245 1305C250 1330 265 1360 265 1395C235 1420 228 1460 228 1495M447 1480C445 1400 410 1280 355 1110C340 1075 300 1075 275 1100L298 1125 285 1145 300 1150C300 1230 302 1290 302 1330C312 1365 340 1420 340 1495M285 1150C282 1230 282 1290 282 1305C278 1330 265 1360 265 1375M270 1400C285 1420 310 1450 310 1495M255 1495V1435H280L287 1495M268 1435V1495"/>
<path class="w" d="M98 1480C100 1400 130 1280 180 1110M447 1480C445 1400 410 1280 355 1110"/>
<path class="d" d="M120 1485C130 1380 160 1250 195 1130M418 1485C400 1380 370 1240 330 1125"/>
</g>
<g transform="translate(20,340) scale(.33333,.44643)">
<path d="M657 423C660 350 690 250 705 170L635 172 698 155C650 140 570 110 553 80C590 110 670 115 717 125L732 112 730 92 748 105C780 90 830 90 860 100L870 85 880 100C890 110 905 115 920 118C970 100 1040 95 1070 60C1055 90 1000 125 940 135L985 135C975 150 950 155 940 155C970 250 995 350 998 415M748 418C735 350 710 280 725 200C730 150 745 125 765 125C790 130 800 160 805 215C810 240 815 265 830 268C850 265 860 240 860 215C850 180 830 150 835 125L860 115 915 135C915 200 940 260 935 290C920 340 925 380 935 413"/>
<path d="M800 135C810 170 815 220 835 250L815 235C805 200 805 160 800 135" style="fill:#555"/>
<path class="d" d="M668 420C675 330 690 260 705 175M990 413C975 320 960 240 940 170M832 270V415M838 270L848 415M600 110L725 150M920 135L1040 95"/>
</g>
</g>
</svg>
</body></html>
